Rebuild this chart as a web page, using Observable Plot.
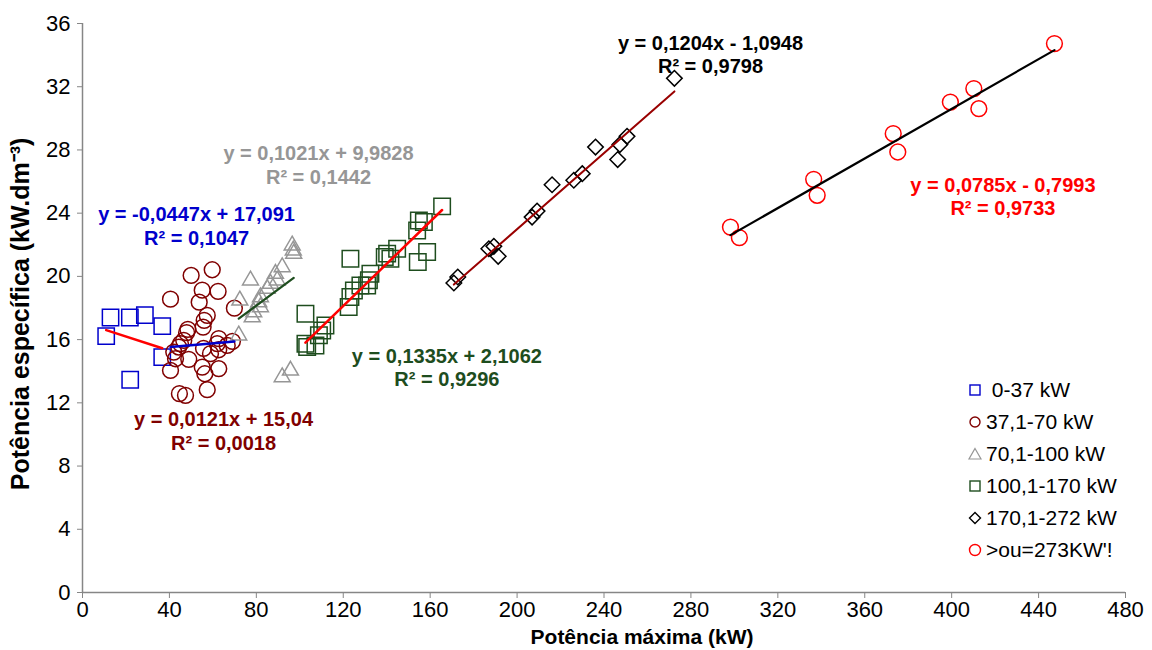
<!DOCTYPE html>
<html><head><meta charset="utf-8">
<script src="https://cdn.jsdelivr.net/npm/d3@7"></script>
<script src="https://cdn.jsdelivr.net/npm/@observablehq/plot@0.6"></script>
<style>
body{margin:0;background:#fff;font-family:"Liberation Sans",Arial,sans-serif;}
#wrap{position:relative;width:1152px;height:650px;}
#legend{position:absolute;left:968px;top:374px;font-size:21px;color:#000;}
.row{height:32px;display:flex;align-items:center;white-space:pre;}
.row svg{width:14px;height:14px;margin-right:4px;overflow:visible}
</style></head><body>
<div id="wrap"><div id="chart"></div><div id="legend"></div></div>
<script>
// ---- data (x = Potência máxima kW, y = Potência específica kW/dm3) ----
const serie0_37 = [[10.9,16.22],[12.9,17.4],[21.8,17.4],[28.7,17.55],[36.7,16.85],[36.7,14.89],[21.95,13.46]];
const serie37_70 = [[59.7,20.42],[50.0,20.06],[40.5,18.56],[55.1,19.13],[62.4,19.05],[53.7,18.37],[69.9,17.99],[57.4,17.53],[56.0,17.22],[55.5,16.79],[48.5,16.65],[47.9,16.44],[46.6,15.95],[45.1,15.74],[62.7,16.06],[62.0,15.74],[66.6,15.63],[58.9,15.11],[62.7,15.36],[42.8,14.79],[40.5,14.05],[48.9,14.75],[55.1,14.26],[56.3,13.84],[62.7,14.16],[57.4,12.83],[44.6,12.58],[47.4,12.47],[44.3,15.53],[42.0,15.21],[69.0,15.89],[55.7,15.44]];
const serie70_100 = [[96.5,21.96],[97.0,21.65],[97.2,21.44],[77.3,19.75],[91.9,20.59],[88.8,20.17],[89.6,19.75],[86.5,19.54],[85.0,19.22],[81.9,18.69],[72.4,18.48],[81.1,18.37],[81.9,18.06],[78.8,17.74],[78.1,17.42],[71.9,16.27],[91.9,13.63],[95.7,14.05]];
const serie100_170 = [[165.5,24.43],[154.8,23.54],[157.1,23.44],[154.0,22.91],[158.6,21.54],[154.3,20.91],[144.8,21.75],[140.2,21.44],[141.7,21.12],[139.1,21.22],[123.3,21.12],[132.5,20.17],[131.8,19.75],[131.0,19.43],[127.9,19.43],[124.9,19.11],[123.3,18.69],[122.5,18.06],[102.6,17.64],[111.8,16.9],[110.3,16.58],[108.8,16.27],[102.6,15.74],[103.4,15.53],[107.2,15.63]];
const serie170_272 = [[170.9,19.58],[172.7,19.96],[187.0,21.75],[189.3,21.9],[191.3,21.27],[206.9,23.75],[209.2,24.13],[216.1,25.8],[226.1,26.08],[230.0,26.5],[236.1,28.18],[246.3,27.39],[247.3,28.34],[250.6,28.86],[272.4,32.53]];
const serie273 = [[298.2,23.12],[302.3,22.45],[336.5,26.14],[338.1,25.13],[373.1,29.03],[375.2,27.87],[399.4,31.03],[410.2,31.88],[412.5,30.61],[447.3,34.73]];

const seriesNames = [" 0-37 kW","37,1-70 kW","70,1-100 kW","100,1-170 kW","170,1-272 kW",">ou=273KW'!"];
const trendSlope = [-0.0447, 0.0121, 0.1021, 0.1335, 0.1204, 0.0785];
const trendIntercept = [17.091, 15.04, 9.9828, 2.1062, -1.0948, -0.7993];
const eqLabels = ["y = -0,0447x + 17,091","y = 0,0121x + 15,04","y = 0,1021x + 9,9828","y = 0,1335x + 2,1062","y = 0,1204x - 1,0948","y = 0,0785x - 0,7993"];
const r2Labels = ["R² = 0,1047","R² = 0,0018","R² = 0,1442","R² = 0,9296","R² = 0,9798","R² = 0,9733"];
const xTicks = [0,40,80,120,160,200,240,280,320,360,400,440,480];
const yTicks = [0,4,8,12,16,20,24,28,32,36];

// ---- styles / annotation anchors ----
const allSeries = [serie0_37, serie37_70, serie70_100, serie100_170, serie170_272, serie273];
const markerColor = ["#0000CC","#800000","#969696","#1E4D1E","#000000","#FF0000"];
const markerSymbol = ["square","circle","triangle","square","diamond2","circle"];
const markerR = [9.2, 7.9, 5.9, 9.3, 7.0, 7.9];
const trendColor = ["#FF0000","#0000CC","#1E4D1E","#FF0000","#990000","#000000"];
const trendWidth = [2.5, 2.5, 2.2, 2.5, 2, 2.2];
const labelColor = ["#0000CC","#800000","#969696","#1E4D1E","#000000","#FF0000"];
const labelAt = [[52.5,23.91,22.42],[64.9,10.93,9.41],[108.6,27.77,26.28],[167.7,14.94,13.46],[289.0,34.73,33.25],[423.6,25.76,24.28]];

const font = "'Liberation Sans', Arial, sans-serif";
const marks = [];
marks.push(Plot.axisY({ticks: yTicks, tickSize: 5, tickPadding: 7, stroke: "#868686", fill: "#000", fontSize: 22, label: null, tickFormat: d => String(d)}));
marks.push(Plot.axisX({ticks: xTicks, tickSize: 6, tickPadding: 3, stroke: "#868686", fill: "#000", fontSize: 22, label: null, tickFormat: d => String(d)}));
marks.push(Plot.ruleX([0], {stroke: "#868686", strokeWidth: 1.5}));
marks.push(Plot.ruleY([0], {stroke: "#868686", strokeWidth: 1.5}));

allSeries.forEach((s, i) => {
  marks.push(Plot.dot(s, {x: d => d[0], y: d => d[1], symbol: markerSymbol[i], r: markerR[i], stroke: markerColor[i], strokeWidth: 1.5, fill: "none"}));
});
allSeries.forEach((s, i) => {
  const [x0, x1] = d3.extent(s, d => d[0]);
  const pts = [x0, x1].map(x => ({x, y: trendSlope[i] * x + trendIntercept[i]}));
  marks.push(Plot.line(pts, {x: "x", y: "y", stroke: trendColor[i], strokeWidth: trendWidth[i]}));
});
allSeries.forEach((s, i) => {
  const [lx, ly1, ly2] = labelAt[i];
  marks.push(Plot.text([{x: lx, y: ly1, t: eqLabels[i]}, {x: lx, y: ly2, t: r2Labels[i]}], {x: "x", y: "y", text: "t", fill: labelColor[i], fontSize: 20, fontWeight: "bold", textAnchor: "middle", lineAnchor: "middle"}));
});
marks.push(Plot.text(["Potência máxima (kW)"], {frameAnchor: "bottom", dx: 38, dy: 45, fontSize: 21, fontWeight: "bold", textAnchor: "middle", lineAnchor: "middle"}));
marks.push(Plot.text(["Potência específica (kW.dm⁻³)"], {frameAnchor: "left", rotate: -90, dx: -62, dy: 6, fontSize: 25, fontWeight: "bold", textAnchor: "middle", lineAnchor: "middle"}));

const chart = Plot.plot({
  width: 1152, height: 650,
  marginLeft: 82, marginRight: 27, marginTop: 23, marginBottom: 58,
  x: {domain: [0, 480]},
  y: {domain: [0, 36]},
  style: {fontFamily: font, background: "white", color: "#000"},
  marks
});
document.getElementById("chart").appendChild(chart);

// legend
const legendShape = [
  c => `<rect x="-5" y="-5" width="10" height="10" fill="none" stroke="${c}" stroke-width="1.4"/>`,
  c => `<circle r="5" fill="none" stroke="${c}" stroke-width="1.4"/>`,
  c => `<path d="M0,-5.5L6,5L-6,5Z" fill="none" stroke="${c}" stroke-width="1.2"/>`,
  c => `<rect x="-5" y="-5" width="10" height="10" fill="none" stroke="${c}" stroke-width="1.4"/>`,
  c => `<path d="M0,-5.5L5.5,0L0,5.5L-5.5,0Z" fill="none" stroke="${c}" stroke-width="1.4"/>`,
  c => `<circle r="5.5" fill="none" stroke="${c}" stroke-width="1.4"/>`
];
document.getElementById("legend").innerHTML = seriesNames.map((n, i) =>
  `<div class="row"><svg viewBox="-7 -7 14 14">${legendShape[i](markerColor[i])}</svg><span>${n}</span></div>`).join("");
</script>
</body></html>
